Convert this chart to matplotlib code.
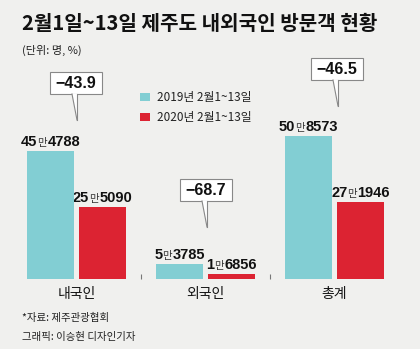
import matplotlib
matplotlib.use('Agg')
import matplotlib.pyplot as plt
import numpy as np
from matplotlib import font_manager
from matplotlib.patches import Rectangle, Polygon

plt.rcParams['font.family'] = ['Noto Sans CJK KR', 'DejaVu Sans']

installed = {f.name for f in font_manager.fontManager.ttflist}
narrow = 'Liberation Sans Narrow' if 'Liberation Sans Narrow' in installed else 'Liberation Sans'

categories = ['내국인', '외국인', '총계']
visitors_2019 = [454788, 53785, 508573]
visitors_2020 = [255090, 16856, 271946]
change_pct = [-43.9, -68.7, -46.5]
legend_labels = ['2019년 2월1~13일', '2020년 2월1~13일']

bg = '#f0f0ee'
cyan = '#82ced3'
red = '#dc2332'

W, H = 420, 349
fig = plt.figure(figsize=(W / 100, H / 100), dpi=100, facecolor=bg)

# overlay in pixel coords for title, legend, callouts, footer
ov = fig.add_axes([0, 0, 1, 1])
ov.set_xlim(0, W)
ov.set_ylim(H, 0)
ov.axis('off')

ov.text(22, 23, '2월1일~13일 제주도 내외국인 방문객 현황', fontsize=14.5,
        fontweight='bold', ha='left', va='center', color='#111')
ov.text(22, 50, '(단위: 명, %)', fontsize=8, ha='left', va='center', color='#222')

for i, (lab, col) in enumerate(zip(legend_labels, [cyan, red])):
    y = 97 + i * 20
    ov.add_patch(Rectangle((140, y - 4), 10, 8, facecolor=col, edgecolor='none'))
    ov.text(157, y, lab, fontsize=8.5, ha='left', va='center', color='#222')

ov.text(22, 318, '*자료: 제주관광협회', fontsize=7.5, ha='left', va='center', color='#222')
ov.text(22, 337, '그래픽: 이승현 디자인기자', fontsize=7.5, ha='left', va='center', color='#222')


def callout(left, top, label, tail_len=26):
    w, h = 52, 22
    ov.add_patch(Rectangle((left, top), w, h, facecolor='white', edgecolor='#888',
                           linewidth=0.8, zorder=3))
    tx = left + 27
    bottom = top + h
    ov.add_patch(Polygon([(tx - 5, bottom - 0.5), (tx, bottom - 0.5), (tx, bottom + tail_len)],
                         closed=True, facecolor='white', edgecolor='none', zorder=4))
    ov.plot([tx - 5, tx], [bottom, bottom + tail_len], color='#888', lw=0.8, zorder=5)
    ov.plot([tx, tx], [bottom, bottom + tail_len], color='#888', lw=0.8, zorder=5)
    ov.text(left + w / 2, top + h / 2 + 0.5, label, fontsize=11.5, fontweight='bold',
            family=[narrow, 'DejaVu Sans'], ha='center', va='center', color='#111', zorder=6)


callout_pos = [(50, 72), (180, 179), (311, 58)]
for (l, t), c in zip(callout_pos, change_pct):
    callout(l, t, '\u2212{:.1f}'.format(abs(c)))

# bar axes
ax = fig.add_axes([12 / W, 70 / H, 387 / W, 168.9 / H])
ax.patch.set_visible(False)
x = np.arange(len(categories))
bw = 0.364
off = 0.2016
ax.bar(x - off, visitors_2019, bw, color=cyan)
ax.bar(x + off, visitors_2020, bw, color=red)
ax.set_xlim(-0.5, 2.5)
ax.set_ylim(0, 600000)
for s in ax.spines.values():
    s.set_visible(False)
ax.set_yticks([])
ax.set_xticks(x)
ax.set_xticklabels(categories, fontsize=10, color='#111')
ax.tick_params(axis='x', which='major', length=0, pad=6)
ax.set_xticks([0.5, 1.5], minor=True)
ax.tick_params(axis='x', which='minor', length=3.6, width=0.8, direction='in', color='#777')

renderer = fig.canvas.get_renderer()


def value_label(xpos, v):
    man, rest = divmod(v, 10000)
    big = dict(fontsize=10.5, fontweight='bold', color='#111', family=narrow)
    small = dict(fontsize=7.5, color='#333')
    px, py = ax.transData.transform((xpos, v))
    base = H - py - 5
    parts = [(str(man), big), ('만', small), (str(rest).zfill(4), big)]
    texts = [ov.text(0, base, s, ha='left', va='baseline', **p) for s, p in parts]
    widths = [t.get_window_extent(renderer).width for t in texts]
    gaps = [0.0, 0.5, 0]
    cur = px - (sum(widths) + sum(gaps)) / 2
    for t, w, g in zip(texts, widths, gaps):
        t.set_x(cur)
        cur += w + g


for i in range(len(categories)):
    value_label(x[i] - off, visitors_2019[i])
    value_label(x[i] + off, visitors_2020[i])

fig.savefig('out.png', dpi=100, facecolor=bg)
